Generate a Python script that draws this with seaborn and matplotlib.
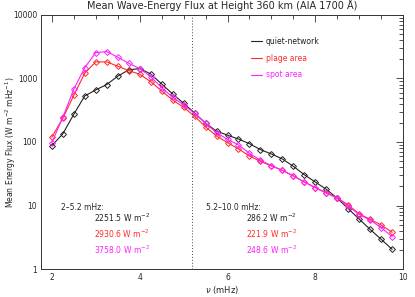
import numpy as np
import pandas as pd
import matplotlib
matplotlib.use('Agg')
import matplotlib.pyplot as plt
import seaborn as sns
from matplotlib.ticker import MultipleLocator, LogLocator, NullFormatter

# frequency grid (mHz)
nu = [2.0, 2.25, 2.5, 2.75, 3.0, 3.25, 3.5, 3.75, 4.0, 4.25, 4.5, 4.75, 5.0, 5.25, 5.5, 5.75,
      6.0, 6.25, 6.5, 6.75, 7.0, 7.25, 7.5, 7.75, 8.0, 8.25, 8.5, 8.75, 9.0, 9.25, 9.5, 9.75]

quiet = [87.5, 134, 273, 530, 659, 800, 1082, 1361, 1426, 1178, 818, 570, 406, 287, 197, 148,
         128, 111, 94, 75.7, 64.7, 54, 41.4, 30.5, 23.4, 18.0, 13.0, 8.9, 6.1, 4.2, 2.94, 2.04]
plage = [119, 236, 543, 1208, 1820, 1820, 1556, 1327, 1164, 891, 635, 458, 351, 254, 173, 124,
         97.5, 77.6, 60.3, 49.6, 41.9, 35.8, 29.2, 23.4, 19.1, 15.9, 13.2, 10.2, 7.35, 6.07, 4.93, 3.79]
spot = [97.5, 245, 676, 1479, 2547, 2645, 2157, 1734, 1426, 1066, 716, 506, 383, 283, 197, 140,
        110, 89.8, 66.4, 51.6, 42.4, 35.8, 29.2, 23.4, 19.1, 15.6, 13.1, 9.8, 7.2, 5.9, 4.47, 3.23]

labels = ['quiet-network', 'plage area', 'spot area']
colors = ['#222222', '#ff2a2a', '#ff20ff']
low_band = ['2251.5', '2930.6', '3758.0']
high_band = ['286.2', '221.9', '248.6']

df = pd.DataFrame({
    'nu': nu * 3,
    'flux': quiet + plage + spot,
    'region': [labels[0]] * len(nu) + [labels[1]] * len(nu) + [labels[2]] * len(nu),
})

sns.set_style('white')
plt.rcParams['font.family'] = ['DejaVu Sans']

fig = plt.figure(figsize=(4.15, 2.97), dpi=100)
ax = fig.add_axes([0.0995, 0.094, 0.872, 0.856])

for lab, col in zip(labels, colors):
    sub = df[df['region'] == lab]
    sns.lineplot(data=sub, x='nu', y='flux', ax=ax, color=col, lw=0.8,
                 marker='D', markersize=3.0, markerfacecolor='none',
                 markeredgecolor=col, markeredgewidth=0.7, label=lab)

ax.set_yscale('log')
ax.set_xlim(1.76, 10)
ax.set_ylim(1, 10000)
ax.axvline(5.2, color='#444444', ls=(0, (1, 2)), lw=0.7)

ax.xaxis.set_major_locator(MultipleLocator(2))
ax.xaxis.set_minor_locator(MultipleLocator(0.5))
ax.yaxis.set_minor_locator(LogLocator(base=10, subs=np.arange(2, 10), numticks=20))
ax.yaxis.set_minor_formatter(NullFormatter())
ax.set_yticks([1, 10, 100, 1000, 10000])
ax.set_yticklabels(['1', '10', '100', '1000', '10000'])
ax.tick_params(which='both', direction='in', top=True, right=True, labelsize=5.5, pad=3,
               color='#333333')
ax.tick_params(which='major', length=5, width=0.6)
ax.tick_params(which='minor', length=3, width=0.6)
for s in ax.spines.values():
    s.set_linewidth(0.7)
    s.set_color('#333333')

ax.set_title('Mean Wave-Energy Flux at Height 360 km (AIA 1700 Å)', fontsize=7, pad=4)
ax.set_xlabel(r'$\nu$ (mHz)', fontsize=6, labelpad=1)
ax.set_ylabel(r'Mean Energy Flux (W m$^{-2}$ mHz$^{-1}$)', fontsize=5.5)
ax.yaxis.set_label_coords(-0.065, 0.5)

leg = ax.legend(loc='upper left', bbox_to_anchor=(0.56, 0.94), frameon=False, fontsize=5.5,
                handlelength=1.5, handletextpad=0.5, labelspacing=1.0)
for txt, col, line in zip(leg.get_texts(), colors, leg.get_lines()):
    txt.set_color(col)
    line.set_marker('')

# band-integrated values
ax.text(0.055, 0.233, '2\u20135.2 mHz:', transform=ax.transAxes, fontsize=5.5)
ax.text(0.455, 0.233, '5.2\u201310.0 mHz:', transform=ax.transAxes, fontsize=5.5)
for i, (a, b, col) in enumerate(zip(low_band, high_band, colors)):
    y = 0.185 - i * 0.063
    ax.text(0.145, y, a + r' W m$^{-2}$', transform=ax.transAxes, fontsize=5.5, color=col)
    ax.text(0.565, y, b + r' W m$^{-2}$', transform=ax.transAxes, fontsize=5.5, color=col)

fig.savefig('out.png', dpi=100)
